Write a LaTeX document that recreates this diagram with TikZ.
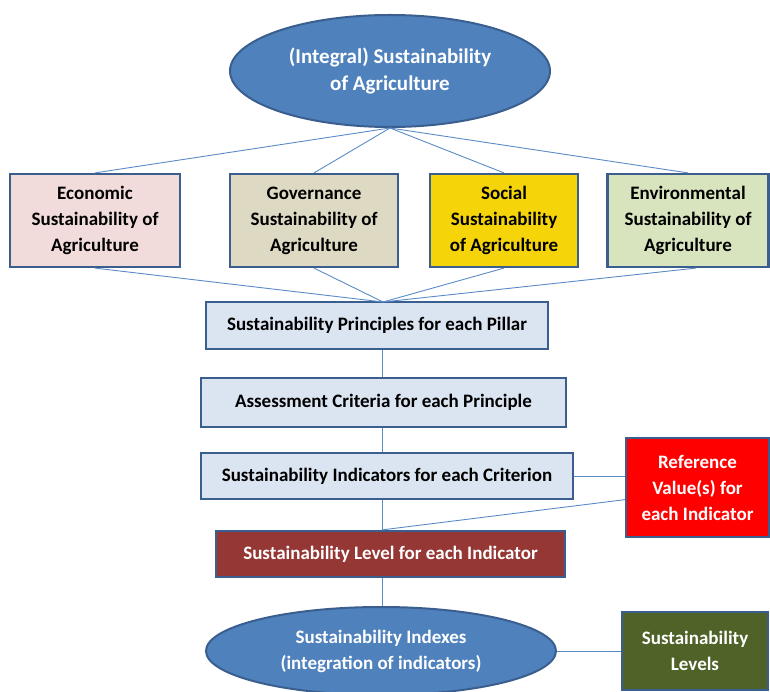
\documentclass[tikz,border=0pt]{standalone}
\usepackage{fontspec}
\setmainfont{Carlito}
\usetikzlibrary{shapes.geometric,calc}
\definecolor{edge}{HTML}{3A5F8E}
\definecolor{ellfill}{HTML}{4F81BD}
\definecolor{conn}{HTML}{5B8BC6}
\definecolor{econfill}{HTML}{F2DCDB}
\definecolor{govfill}{HTML}{DDD9C3}
\definecolor{socfill}{HTML}{F5D50A}
\definecolor{envfill}{HTML}{D7E4BD}
\definecolor{stepfill}{HTML}{DBE5F1}
\definecolor{reffill}{HTML}{FF0000}
\definecolor{levfill}{HTML}{953735}
\definecolor{lvsfill}{HTML}{4F6228}
\tikzset{
  basebox/.style={draw=edge, line width=2.2pt, rectangle, inner sep=0pt, align=center,
    font=\fontsize{19}{26}\selectfont\bfseries},
  pillar/.style={basebox},
  stepbox/.style={basebox, fill=stepfill},
  oval/.style={draw=edge, line width=2pt, ellipse, fill=ellfill, inner sep=0pt, align=center,
    text=white, font=\fontsize{21}{27}\selectfont\bfseries},
  link/.style={draw=conn, line width=0.9pt}
}
\begin{document}
\begin{tikzpicture}[x=1pt,y=-1pt]
\useasboundingbox (0,0) rectangle (770,692);
\node[oval, minimum width=320pt, minimum height=112pt] (top) at (390,71)
  {(Integral) Sustainability\\of Agriculture};
\node[pillar, fill=econfill, minimum width=170pt, minimum height=93pt] (econ) at (95,220.5)
  {Economic\\Sustainability of\\Agriculture};
\node[pillar, fill=govfill, minimum width=168pt, minimum height=93pt] (gov) at (314,220.5)
  {Governance\\Sustainability of\\Agriculture};
\node[pillar, fill=socfill, minimum width=148pt, minimum height=93pt] (soc) at (504,220.5)
  {Social\\Sustainability\\of Agriculture};
\node[pillar, fill=envfill, minimum width=161pt, minimum height=93pt] (env) at (688,220.5)
  {Environmental\\Sustainability of\\Agriculture};
\node[stepbox, minimum width=342pt, minimum height=47pt] (princ) at (377,325.5)
  {Sustainability Principles for each Pillar};
\node[stepbox, minimum width=365pt, minimum height=49pt] (assess) at (383.5,402.5)
  {Assessment Criteria for each Principle};
\node[stepbox, minimum width=372pt, minimum height=46pt] (indic) at (387,476)
  {Sustainability Indicators for each Criterion};
\node[basebox, fill=reffill, text=white, minimum width=143pt, minimum height=99pt] (ref) at (697.5,487.5)
  {Reference\\Value(s) for\\each Indicator};
\node[basebox, fill=levfill, text=white, minimum width=349pt, minimum height=46pt] (level) at (390.5,554)
  {Sustainability Level for each Indicator};
\node[oval, minimum width=350pt, minimum height=88pt, font=\fontsize{19}{26}\selectfont\bfseries] (bot) at (381,651)
  {Sustainability Indexes\\(integration of indicators)};
\node[basebox, fill=lvsfill, text=white, minimum width=146pt, minimum height=78pt] (lvls) at (695,651)
  {Sustainability\\Levels};
\coordinate (spine) at (382,0);
\coordinate (hub) at (383,302);
% connectors
\path[link] (top.south) -- (econ.north);
\path[link] (top.south) -- (gov.north);
\path[link] (top.south) -- (soc.north);
\path[link] (top.south) -- (env.north);
\path[link] (econ.south) -- (hub);
\path[link] (gov.south) -- (hub);
\path[link] (soc.south) -- (hub);
\path[link] ($(env.south)+(8,0)$) -- (hub);
\path[link] (princ.south -| spine) -- (assess.north -| spine);
\path[link] (assess.south -| spine) -- (indic.north -| spine);
\path[link] (indic.south -| spine) -- (level.north -| spine);
\path[link] (level.south -| spine) -- (bot.north -| spine);
\path[link] (indic.east) -- (indic.east -| ref.west);
\path[link] (level.north -| spine) -- ($(ref.north west)!0.62!(ref.south west)$);
\path[link] (bot.east) -- (lvls.west);
\end{tikzpicture}
\end{document}
